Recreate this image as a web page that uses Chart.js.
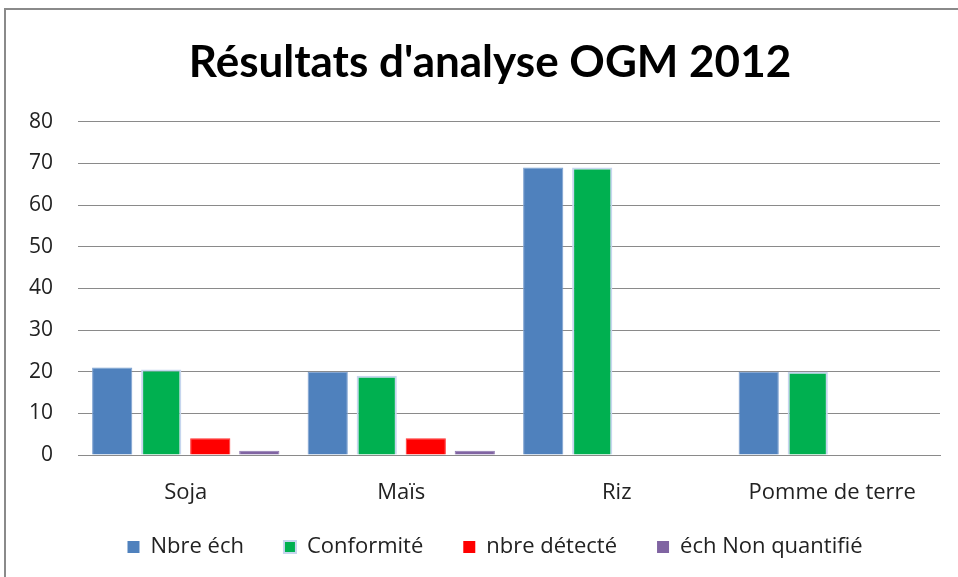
<!DOCTYPE html>
<html>
<head>
<meta charset="utf-8">
<script src="https://cdn.jsdelivr.net/npm/chart.js@4/dist/chart.umd.min.js"></script>
<style>
html,body{margin:0;padding:0;background:#fff;}
#wrap{position:absolute;left:0;top:0;width:958px;height:577px;overflow:hidden;}
#frame{position:absolute;left:4px;top:8px;width:1000px;height:600px;border-left:2px solid #8a8a8a;border-top:2px solid #8a8a8a;}
canvas{position:absolute;left:0;top:0;}
</style>
</head>
<body>
<div id="wrap">
<div id="frame"></div>
<canvas id="c" width="958" height="577"></canvas>
</div>
<script>
const categories = ["Soja", "Maïs", "Riz", "Pomme de terre"];
const seriesNames = ["Nbre éch", "Conformité", "nbre détecté", "éch Non quantifié"];
const nbreEch = [21, 20, 69, 20];
const conformite = [20.5, 19, 69, 20];
const nbreDetecte = [4, 4, 0, 0];
const nonQuantifie = [1, 1, 0, 0];
const colors = ["#4f81bd", "#00b050", "#ff0000", "#8064a2"];
const borders = ["#7a9fd0", "#c6d6ee", "#ff3030", "#8f78b0"];
const yTicks = [0, 10, 20, 30, 40, 50, 60, 70, 80];

const FONT = "'Open Sans', 'Liberation Sans', sans-serif";
const TFONT = "Lato, 'Liberation Sans', sans-serif";
const seriesData = [nbreEch, conformite, nbreDetecte, nonQuantifie];
const LEG_PAD = 40;
const LEG_FONT = 22;

// The original chart frame is wider than the cropped picture: centre title and legend on it
const placeBoxes = {
  id: 'placeBoxes',
  afterLayout(chart) {
    if (chart.titleBlock) { chart.titleBlock.right = 958 + 22; }
    if (chart.legend) {
      chart.legend.right = 958 + 32;
      chart.legend.top = 547 - LEG_FONT / 2 - LEG_PAD;
      chart.legend.bottom = 577;
      chart.legend.height = chart.legend.bottom - chart.legend.top;
    }
  }
};

new Chart(document.getElementById('c'), {
  type: 'bar',
  data: {
    labels: categories,
    datasets: seriesNames.map((n, i) => ({
      label: n,
      data: seriesData[i],
      backgroundColor: colors[i],
      borderColor: borders[i],
      borderWidth: i === 1 ? 2 : 1,
      categoryPercentage: 0.91,
      barPercentage: 0.82
    }))
  },
  plugins: [placeBoxes],
  options: {
    responsive: false,
    animation: false,
    devicePixelRatio: 1,
    layout: { padding: { left: 0, right: 18, top: 0, bottom: 0 } },
    plugins: {
      title: {
        display: true,
        text: "Résultats d'analyse OGM 2012",
        color: '#000',
        font: { family: TFONT, size: 44, weight: 'bold', lineHeight: 1.2 },
        padding: { top: 36, bottom: 33 }
      },
      legend: {
        position: 'bottom',
        maxHeight: 60,
        labels: {
          color: '#222',
          font: { family: FONT, size: LEG_FONT },
          boxWidth: 12,
          boxHeight: 12,
          padding: LEG_PAD,
          generateLabels: (chart) => chart.data.datasets.map((d, i) => ({
            text: d.label,
            fillStyle: colors[i],
            strokeStyle: i === 1 ? '#c6d6ee' : colors[i],
            lineWidth: i === 1 ? 2 : 0,
            datasetIndex: i,
            fontColor: '#222'
          }))
        }
      },
      tooltip: { enabled: false }
    },
    scales: {
      x: {
        afterFit: (axis) => { axis.height = 62; },
        grid: { display: false },
        border: { display: true, color: '#8a8a8a', width: 1 },
        ticks: { color: '#222', font: { family: FONT, size: 22 }, padding: 17 }
      },
      y: {
        min: 0, max: 80,
        afterFit: (axis) => { axis.width = 78; },
        afterBuildTicks: (axis) => { axis.ticks = yTicks.map(v => ({ value: v })); },
        grid: { color: '#8a8a8a', lineWidth: 1, drawTicks: false },
        border: { display: false },
        ticks: { color: '#222', font: { family: FONT, size: 21 }, padding: 25 }
      }
    }
  }
});
</script>
</body>
</html>
